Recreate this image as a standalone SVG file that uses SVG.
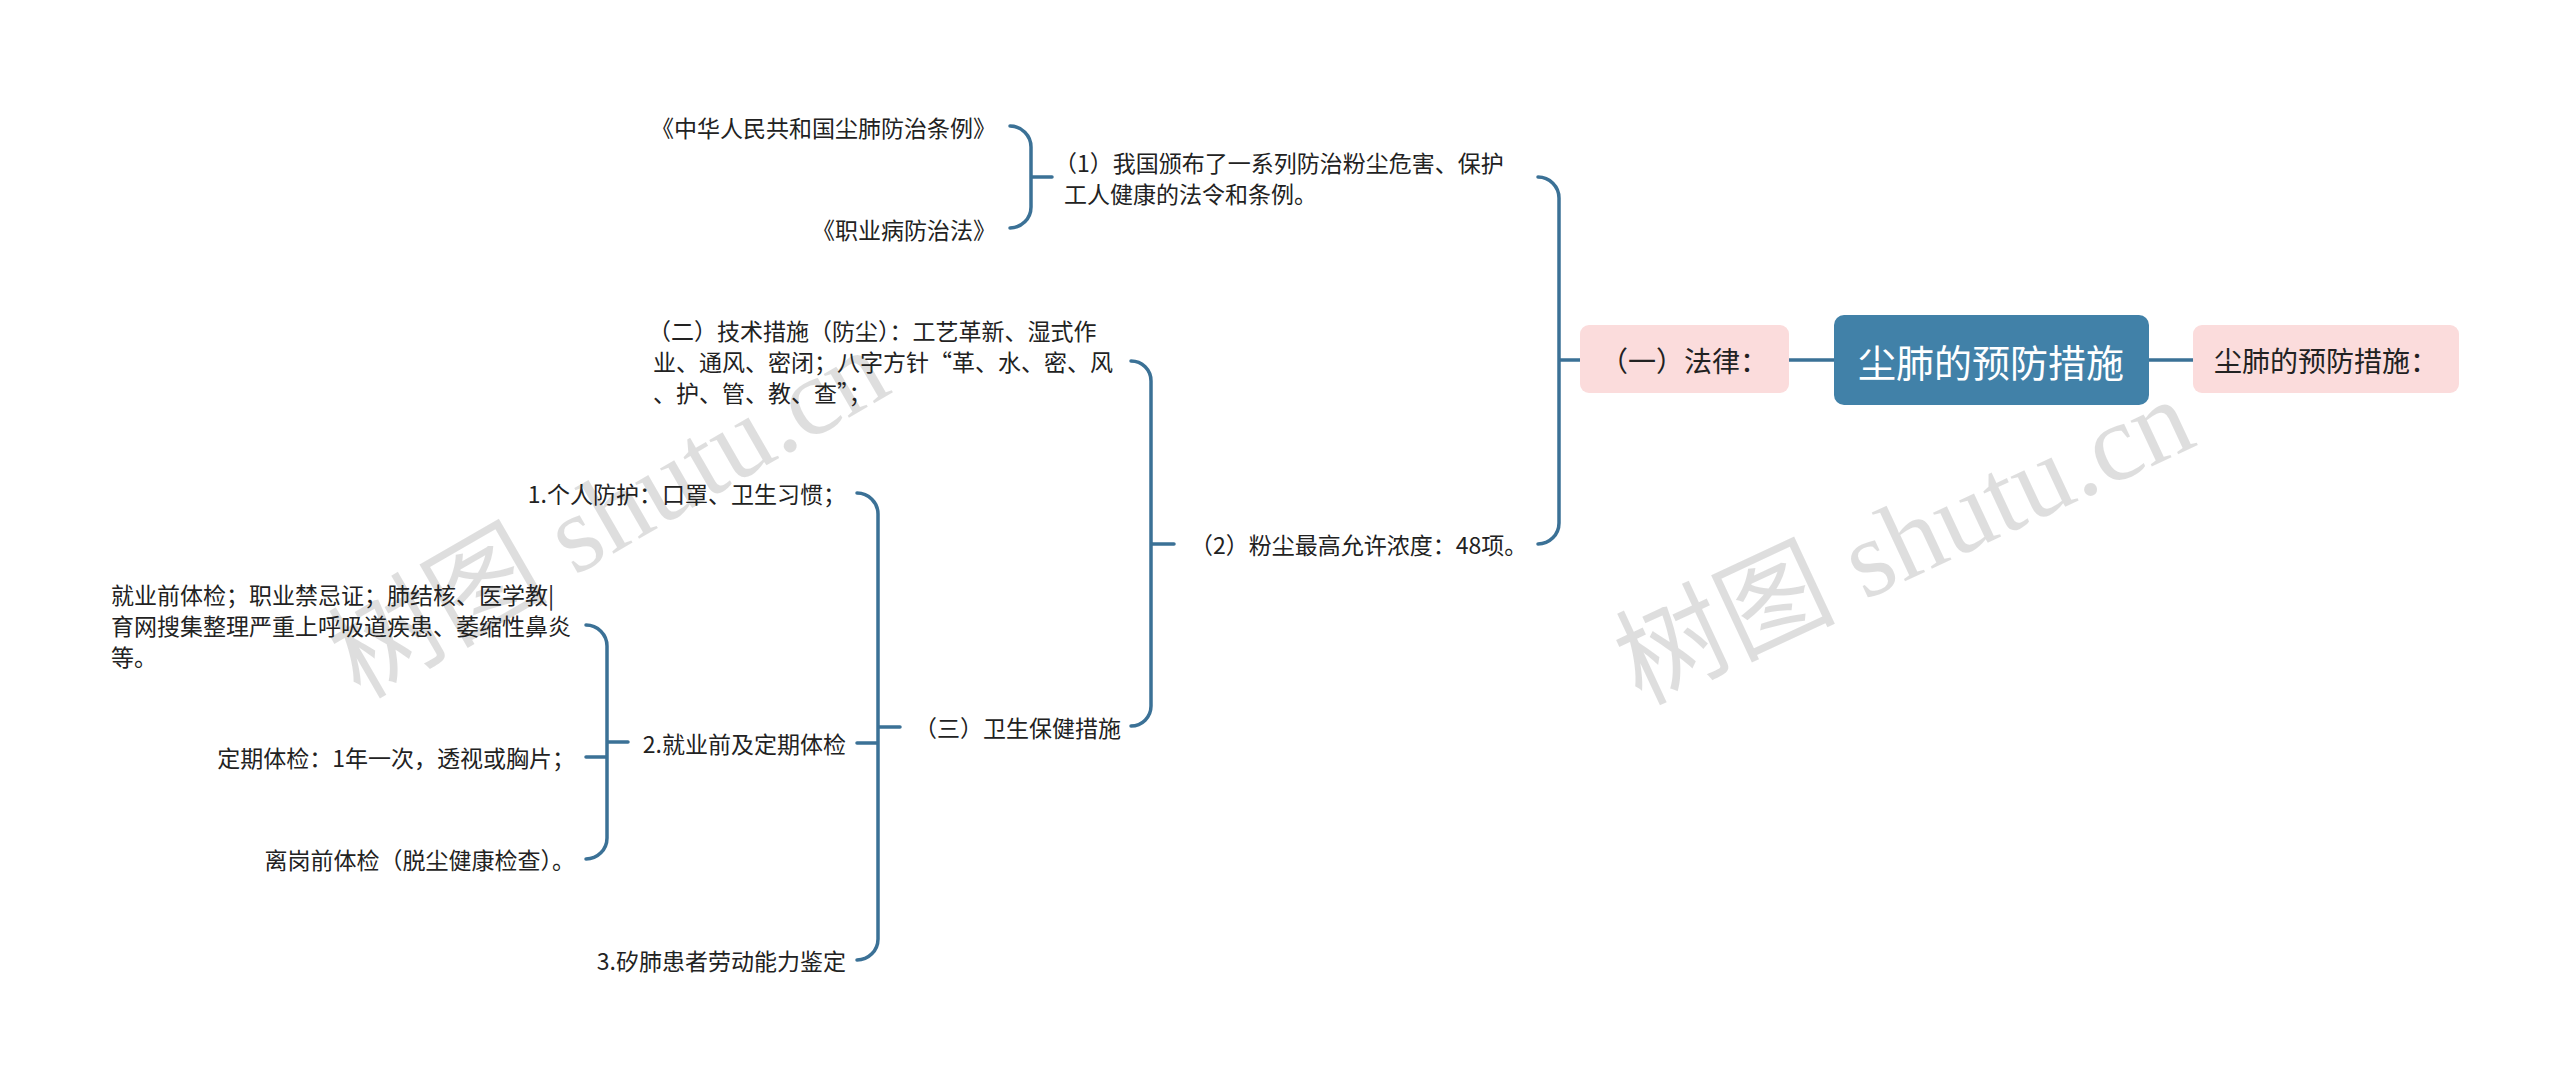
<svg xmlns="http://www.w3.org/2000/svg" width="2560" height="1088" viewBox="0 0 2560 1088">
<style>
.t{font-family:"Noto Sans CJK SC","Noto Sans",sans-serif;font-size:23px;fill:#222;dominant-baseline:central}
.e{text-anchor:end}
.c{fill:none;stroke:#3b7196;stroke-width:3.5;stroke-linecap:round}
.pink{fill:#fbdcdc}
.wm{font-family:"Liberation Serif","Noto Sans CJK SC",serif;font-size:110px;fill:#000;fill-opacity:0.13}
</style>
<rect width="2560" height="1088" fill="#fff"/>
<g id="watermark">
<text class="wm" transform="translate(360 700) rotate(-30)">树图 shutu.cn</text>
<text class="wm" transform="translate(1640 705) rotate(-25)">树图 shutu.cn</text>
</g>
<g id="connectors">
<path class="c" d="M1789 360H1834M2149 360H2193"/>
<path class="c" d="M1538 177A21 21 0 0 1 1559 198V523A21 21 0 0 1 1538 544M1559 360H1580"/>
<path class="c" d="M1010 126A21 21 0 0 1 1031 147V207A21 21 0 0 1 1010 228M1031 177H1052"/>
<path class="c" d="M1131 361A20 20 0 0 1 1151 381V706A20 20 0 0 1 1131 726M1151 544H1174"/>
<path class="c" d="M857 493A21 21 0 0 1 878 514V939A21 21 0 0 1 857 960M857 743H878M878 727H900"/>
<path class="c" d="M586 625A21 21 0 0 1 607 646V838A21 21 0 0 1 586 859M586 757H607M607 742H628"/>
</g>
<g id="root">
<rect x="1834" y="315" width="315" height="90" rx="10" fill="#4181a8"/>
<text class="t" x="1991" y="360" text-anchor="middle" style="font-size:38px;fill:#fff">尘肺的预防措施</text>
</g>
<g id="n-right">
<rect class="pink" x="2193" y="325" width="266" height="68" rx="9"/>
<text class="t" x="2326" y="360" text-anchor="middle" style="font-size:28px">尘肺的预防措施：</text>
</g>
<g id="n-law">
<rect class="pink" x="1580" y="325" width="209" height="68" rx="9"/>
<text class="t" x="1684" y="360" text-anchor="middle" style="font-size:28px">（一）法律：</text>
</g>
<g id="n-1">
<text class="t" x="1054" y="162">（1）我国颁布了一系列防治粉尘危害、保护</text>
<text class="t" x="1064" y="193">工人健康的法令和条例。</text>
</g>
<g id="n-law1"><text class="t e" x="996" y="127">《中华人民共和国尘肺防治条例》</text></g>
<g id="n-law2"><text class="t e" x="996" y="229">《职业病防治法》</text></g>
<g id="n-2"><text class="t" x="1190" y="544">（2）粉尘最高允许浓度：48项。</text></g>
<g id="n-tech">
<text class="t" x="648" y="330">（二）技术措施（防尘）：工艺革新、湿式作</text>
<text class="t" x="653" y="361">业、通风、密闭；八字方针“革、水、密、风</text>
<text class="t" x="653" y="392">、护、管、教、查”；</text>
</g>
<g id="n-health"><text class="t" x="914" y="727">（三）卫生保健措施</text></g>
<g id="n-h1"><text class="t e" x="846" y="493">1.个人防护：口罩、卫生习惯；</text></g>
<g id="n-h2"><text class="t e" x="846" y="743">2.就业前及定期体检</text></g>
<g id="n-h3"><text class="t e" x="846" y="960">3.矽肺患者劳动能力鉴定</text></g>
<g id="n-e1">
<text class="t" x="111" y="594">就业前体检；职业禁忌证；肺结核、医学教|</text>
<text class="t" x="111" y="625">育网搜集整理严重上呼吸道疾患、萎缩性鼻炎</text>
<text class="t" x="111" y="656">等。</text>
</g>
<g id="n-e2"><text class="t e" x="575" y="757">定期体检：1年一次，透视或胸片；</text></g>
<g id="n-e3"><text class="t e" x="575" y="859">离岗前体检（脱尘健康检查）。</text></g>
</svg>
